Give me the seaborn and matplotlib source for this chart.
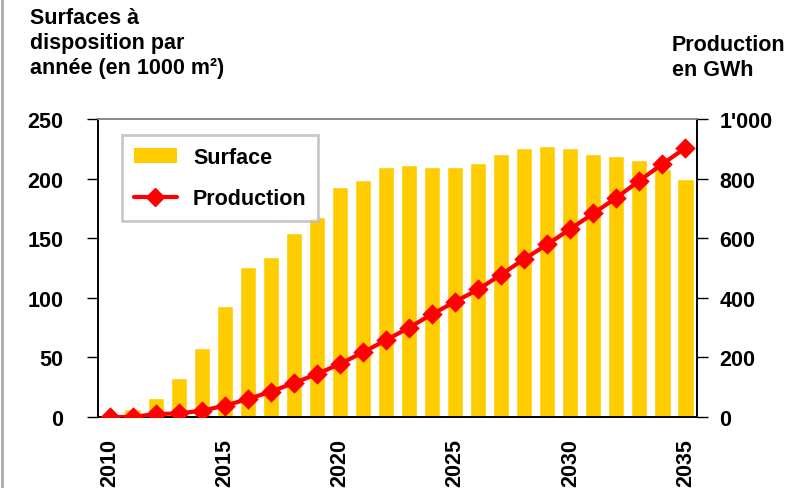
import matplotlib
matplotlib.use("Agg")
import matplotlib.pyplot as plt
import seaborn as sns
import numpy as np
import pandas as pd
from matplotlib.patches import Patch
from matplotlib.lines import Line2D
from matplotlib.ticker import FixedLocator

years = [str(y) for y in range(2010, 2036)]
surface = [2, 7, 16, 33, 58, 93, 126, 134, 154, 168, 193, 199, 210, 211,
           210, 210, 213, 221, 226, 227, 226, 221, 219, 216, 208, 200]
production = [0, 0, 10, 12, 21, 38, 60, 85, 114, 144, 178, 217, 258, 300,
              345, 387, 428, 478, 530, 579, 631, 683, 736, 793, 849, 903]
left_ticks = [0, 50, 100, 150, 200, 250]
right_ticks = [0, 200, 400, 600, 800, 1000]
right_labels = ["0", "200", "400", "600", "800", "1'000"]
label_years = ["2010", "2015", "2020", "2025", "2030", "2035"]

df = pd.DataFrame({"year": years, "surface": surface, "production": production})

sns.set_style("white")
plt.rcParams["font.family"] = ["Liberation Sans", "DejaVu Sans"]
plt.rcParams["font.weight"] = "bold"
plt.rcParams["text.color"] = "black"
plt.rcParams["xtick.color"] = "black"
plt.rcParams["ytick.color"] = "black"
plt.rcParams["xtick.labelcolor"] = "black"
plt.rcParams["ytick.labelcolor"] = "black"

FS = 15.5

fig = plt.figure(figsize=(7.93, 4.89), dpi=100)
ax = fig.add_axes([98/793, 71/489, 599/793, 298/489])

sns.barplot(data=df, x="year", y="surface", order=years, color="#FFCC00",
            saturation=1, width=0.7, ax=ax, zorder=2)
ax2 = ax.twinx()
sns.pointplot(data=df, x="year", y="production", order=years, color="#FF0000",
              markers="D", errorbar=None, ax=ax2, markersize=8, linewidth=3,
              zorder=5)

ax.set_xlim(-0.5, 25.5)
ax2.set_xlim(-0.5, 25.5)
ax.set_ylim(0, 250)
ax2.set_ylim(0, 1000)
for a in (ax, ax2):
    a.set_xlabel("")
    a.set_ylabel("")

ax.set_yticks(left_ticks)
ax.set_yticklabels([str(t) for t in left_ticks], fontsize=FS, fontweight="bold", color="black")
ax2.set_yticks(right_ticks)
ax2.set_yticklabels(right_labels, fontsize=FS, fontweight="bold", color="black")

pos = [years.index(y) for y in label_years]
ax.set_xticks(pos)
ax.set_xticklabels(label_years, rotation=90, fontsize=FS, fontweight="bold", color="black")
ax.xaxis.set_minor_locator(FixedLocator(np.arange(-0.5, 26, 1)))
ax.tick_params(axis="x", which="major", length=0, pad=15)
ax.tick_params(axis="x", which="minor", length=13, direction="inout", width=1, color="#333333")
ax.tick_params(axis="y", which="major", length=8, direction="out", width=1, color="black", left=True, pad=17)
ax2.tick_params(axis="y", which="major", length=8, direction="out", width=1, color="black", right=True, pad=8)
ax2.tick_params(axis="x", length=0)

for a in (ax, ax2):
    for s in ("left", "right", "bottom"):
        a.spines[s].set_color("black")
        a.spines[s].set_linewidth(1.2)
    a.spines["top"].set_color("#888888")
    a.spines["top"].set_linewidth(1.2)
    a.grid(False)

handles = [Patch(facecolor="#FFCC00", edgecolor="none", label="Surface"),
           Line2D([0], [0], color="#FF0000", lw=3, marker="D", markersize=9, label="Production")]
leg = ax2.legend(handles=handles, loc="upper left", bbox_to_anchor=(0.040, 0.946),
                 frameon=True, fancybox=False, prop={"weight": "bold", "size": FS},
                 handlelength=2.0, handleheight=0.75, borderpad=0.55, labelspacing=0.95,
                 handletextpad=0.75, borderaxespad=0, labelcolor="black")
leg.get_frame().set_edgecolor("#BBBBBB")
leg.get_frame().set_linewidth(2)

fig.text(30/793, 1 - 8/489, "Surfaces à\ndisposition par\nannée (en 1000 m²)",
         ha="left", va="top", fontsize=FS, fontweight="bold", linespacing=1.25, color="black")
fig.text(672/793, 1 - 35/489, "Production\nen GWh",
         ha="left", va="top", fontsize=FS, fontweight="bold", linespacing=1.25, color="black")

fig.add_artist(Line2D([2/793, 2/793], [0, 1], color="#AAAAAA", lw=2,
                      transform=fig.transFigure))

fig.savefig("out.png", dpi=100)
